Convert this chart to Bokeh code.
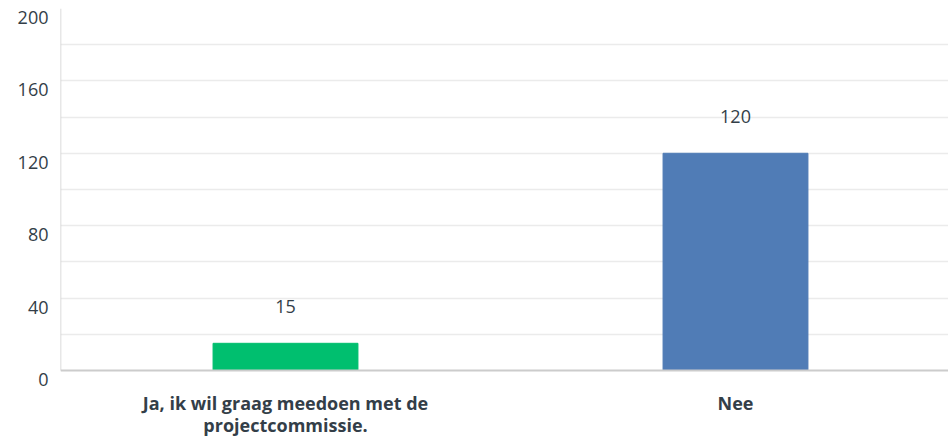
from bokeh.plotting import figure
from bokeh.models import (ColumnDataSource, LabelSet, Range1d, FixedTicker,
                          LinearAxis, Grid, Span)
from bokeh.core.properties import value
from bokeh.embed import file_html
from bokeh.resources import INLINE

categories = ["Ja, ik wil graag meedoen met de\nprojectcommissie.", "Nee"]
counts = [15, 120]
bar_colors = ["#00BF6F", "#507CB6"]
y_ticks = [0, 40, 80, 120, 160, 200]
grid_ticks = [20, 40, 60, 80, 100, 120, 140, 160, 180, 200]

TEXT = "#333e48"
FONT = "Open Sans"
Y_MAX = 200
SHIFT = 5  # tick labels sit a little below their gridlines

xs = [i + 0.5 for i in range(len(categories))]
src = ColumnDataSource(dict(x=xs, top=counts, color=bar_colors,
                            label=[str(c) for c in counts]))

p = figure(width=948, height=441, output_backend="svg", toolbar_location=None,
           x_range=Range1d(0, 888 / 450), y_range=Range1d(-SHIFT, Y_MAX),
           y_axis_location=None,
           min_border_left=60, min_border_right=0, min_border_top=8,
           min_border_bottom=62)
p.outline_line_color = None
p.background_fill_color = "white"

# grid (replace the default one)
p.ygrid.visible = False
p.xgrid.visible = False
p.add_layout(Grid(dimension=1, ticker=FixedTicker(ticks=grid_ticks),
                  grid_line_color="#ebebeb", grid_line_width=1.5))

# left axis line and baseline
p.segment(x0=[0], y0=[0], x1=[0], y1=[Y_MAX], line_color="#d0d0d0", line_width=1.5)
p.add_layout(Span(location=0, dimension="width", line_color="#cccccc", line_width=2))

p.vbar(x="x", top="top", bottom=0, width=0.322, color="color", source=src)

# value labels above bars
p.add_layout(LabelSet(x="x", y="top", text="label", source=src, y_offset=37,
                      text_align="center", text_baseline="middle",
                      text_font=value(FONT), text_font_size=value("18px"),
                      text_color=TEXT))

# y tick labels on a shifted range so they sit below their gridlines
p.extra_y_ranges = {"lbl": Range1d(0, Y_MAX + SHIFT)}
yax = LinearAxis(y_range_name="lbl", ticker=FixedTicker(ticks=y_ticks))
yax.axis_line_color = None
yax.major_tick_out = 0
yax.major_tick_in = 0
yax.minor_tick_out = 0
yax.minor_tick_in = 0
yax.major_label_standoff = 12
yax.major_label_text_font = FONT
yax.major_label_text_font_size = "18px"
yax.major_label_text_color = TEXT
p.add_layout(yax, "left")

p.xaxis.ticker = FixedTicker(ticks=xs)
p.xaxis.major_label_overrides = {x: c for x, c in zip(xs, categories)}
p.xaxis.axis_line_color = None
p.xaxis.major_tick_out = 0
p.xaxis.major_tick_in = 0
p.xaxis.minor_tick_out = 0
p.xaxis.minor_tick_in = 0
p.xaxis.major_label_standoff = 11
p.xaxis.major_label_text_font = FONT
p.xaxis.major_label_text_font_style = "bold"
p.xaxis.major_label_text_font_size = "18px"
p.xaxis.major_label_text_line_height = 0.95
p.xaxis.major_label_text_color = TEXT

open("out.html", "w").write(file_html(p, INLINE))
